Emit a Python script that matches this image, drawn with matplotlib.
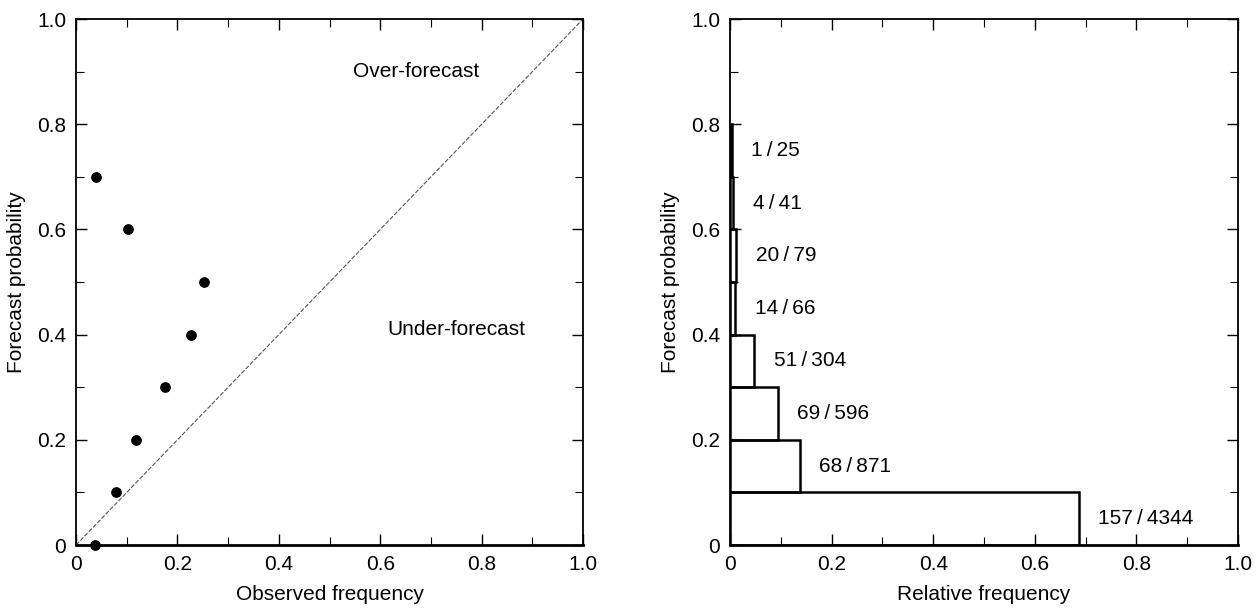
import numpy as np
import matplotlib
matplotlib.use("Agg")
import matplotlib.pyplot as plt
from matplotlib.ticker import MultipleLocator, FixedFormatter, FixedLocator

plt.rcParams['font.family'] = ['Liberation Sans', 'DejaVu Sans']

# forecast probability bins, hits / counts per bin
forecast_prob = [0.0, 0.1, 0.2, 0.3, 0.4, 0.5, 0.6, 0.7]
hits = [157, 68, 69, 51, 14, 20, 4, 1]
counts = [4344, 871, 596, 304, 66, 79, 41, 25]
# observed frequency as plotted
observed = [0.037, 0.079, 0.118, 0.175, 0.227, 0.253, 0.103, 0.040]

tick_vals = [0, 0.2, 0.4, 0.6, 0.8, 1.0]
tick_labels = ['0', '0.2', '0.4', '0.6', '0.8', '1.0']

counts_arr = np.array(counts)
rel_freq = counts_arr / counts_arr.sum()

fig = plt.figure(figsize=(12.57, 6.08), dpi=100)
ax1 = fig.add_axes([0.0605, 0.1036, 0.4033, 0.865])
ax2 = fig.add_axes([0.5808, 0.1036, 0.4040, 0.865])


def style_axes(ax):
    ax.set_xlim(0, 1)
    ax.set_ylim(0, 1)
    ax.xaxis.set_major_locator(FixedLocator(tick_vals))
    ax.yaxis.set_major_locator(FixedLocator(tick_vals))
    ax.xaxis.set_major_formatter(FixedFormatter(tick_labels))
    ax.yaxis.set_major_formatter(FixedFormatter(tick_labels))
    ax.xaxis.set_minor_locator(MultipleLocator(0.1))
    ax.yaxis.set_minor_locator(MultipleLocator(0.1))
    ax.tick_params(which='both', direction='in', top=True, right=True,
                   labelsize=15, pad=7)
    ax.tick_params(which='major', length=8, width=1.0)
    ax.tick_params(which='minor', length=6, width=0.8)
    for s in ax.spines.values():
        s.set_linewidth(1.3)
    ax.spines['bottom'].set_linewidth(2.0)


# left panel: reliability diagram
style_axes(ax1)
ax1.plot([0, 1], [0, 1], color='#555555', lw=0.8, ls=(0, (4, 1.5)))
ax1.scatter(observed, forecast_prob, s=45, color='black', zorder=3, clip_on=False)
ax1.text(0.67, 0.90, 'Over-forecast', fontsize=15, ha='center', va='center')
ax1.text(0.75, 0.41, 'Under-forecast', fontsize=15, ha='center', va='center')
ax1.set_xlabel('Observed frequency', fontsize=15, labelpad=8)
ax1.set_ylabel('Forecast probability', fontsize=15, labelpad=8)

# right panel: how often each probability was forecast
style_axes(ax2)
ax2.barh(forecast_prob, rel_freq, height=0.1, left=0, align='edge',
         fill=False, edgecolor='black', linewidth=1.8)
for y, w, h, c in zip(forecast_prob, rel_freq, hits, counts):
    ax2.text(w + 0.038, y + 0.05, f'{h}\u2009/\u2009{c}', fontsize=15,
             ha='left', va='center')
ax2.set_xlabel('Relative frequency', fontsize=15, labelpad=8)
ax2.set_ylabel('Forecast probability', fontsize=15, labelpad=8)

fig.savefig('out.png', dpi=100)
